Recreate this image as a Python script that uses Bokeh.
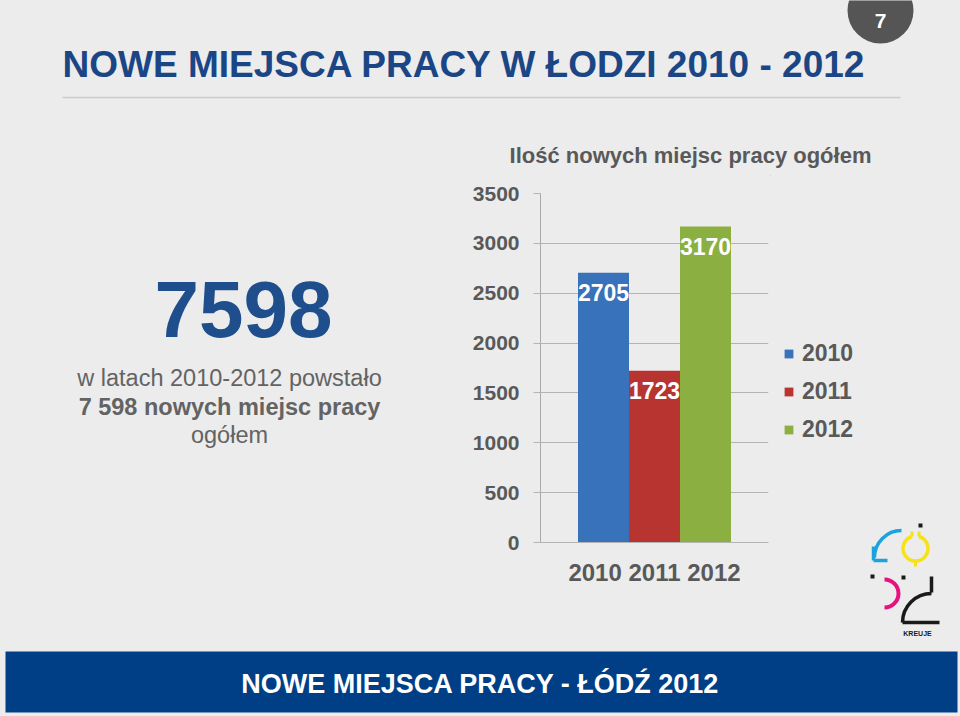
from bokeh.plotting import figure
from bokeh.layouts import column, row
from bokeh.models import ColumnDataSource, Range1d, FactorRange, FixedTicker, Legend, LegendItem
from bokeh.transform import dodge
from bokeh.core.properties import value
from bokeh.embed import file_html
from bokeh.resources import INLINE

# ---------------- data ----------------
years = ["2010", "2011", "2012"]
jobs = [2705, 1723, 3170]
bar_colors = ["#3772bb", "#b83431", "#8bb041"]
category = "2010 2011 2012"
y_ticks = [0, 500, 1000, 1500, 2000, 2500, 3000, 3500]
total_jobs = "7598"
slide_title = "NOWE MIEJSCA PRACY W ŁODZI 2010 - 2012"
chart_title = "Ilość nowych miejsc pracy ogółem"
footer_text = "NOWE MIEJSCA PRACY - ŁÓDŹ 2012"
page_number = "7"
summary_lines = ["w latach 2010-2012 powstało", "7 598 nowych miejsc pracy", "ogółem"]
summary_styles = ["normal", "bold", "normal"]
logo_text = "KREUJE"

BG = "#ececec"
NAVY = "#1b4686"
GRAY = "#595959"
SANS = value("Liberation Sans")


def blank(w, h, x0, x1, y0, y1):
    p = figure(width=w, height=h, x_range=Range1d(x0, x1), y_range=Range1d(y1, y0),
               min_border=0, toolbar_location=None, output_backend="svg",
               background_fill_color=BG, border_fill_color=BG, outline_line_color=None,
               x_axis_location=None, y_axis_location=None, frame_align=False)
    p.grid.visible = False
    return p


# ---------------- header ----------------
head = blank(960, 175, 0, 960, 0, 175)
head.circle(x=[880], y=[10], radius=33, fill_color="#555555", line_color=None)
head.text(x=[880], y=[20], text=[page_number], text_align="center", text_baseline="middle",
          text_font=SANS, text_font_style="bold", text_font_size="21px", text_color="white")
head.text(x=[62], y=[64], text=[slide_title], text_align="left", text_baseline="middle",
          text_font=SANS, text_font_style="bold", text_font_size="37px", text_color=NAVY)
head.segment(x0=[62], y0=[97], x1=[900], y1=[97], line_color="#cbcbcb", line_width=1.5)
head.text(x=[690], y=[155], text=[chart_title], text_align="center", text_baseline="middle",
          text_font=SANS, text_font_style="bold", text_font_size="22px", text_color=GRAY)

# ---------------- left text ----------------
left = blank(440, 475, 0, 440, 175, 650)
left.text(x=[243], y=[309], text=[total_jobs], text_align="center", text_baseline="middle",
          text_font=SANS, text_font_style="bold", text_font_size="80px", text_color="#1f4e8d")
for line, style, yy in zip(summary_lines, summary_styles, [377, 406, 434]):
    left.text(x=[229], y=[yy], text=[line], text_align="center", text_baseline="middle",
              text_font=SANS, text_font_style=style, text_font_size="23.5px", text_color="#636363")

# ---------------- chart ----------------
chart = figure(width=330, height=475, x_range=FactorRange(factors=[category]), y_range=Range1d(0, 3500),
               min_border_left=100, min_border_right=2, min_border_top=18, min_border_bottom=108,
               toolbar_location=None, output_backend="svg", frame_align=False,
               background_fill_color=BG, border_fill_color=BG, outline_line_color=None)
bar_w = 0.2237
for k, (yr, v, c) in enumerate(zip(years, jobs, bar_colors)):
    src = ColumnDataSource(dict(cat=[category], val=[v], lbl=[str(v)]))
    off = (k - 1) * bar_w
    chart.vbar(x=dodge("cat", off, range=chart.x_range), top="val", width=bar_w, source=src,
               fill_color=c, line_color=None)
    chart.text(x=dodge("cat", off, range=chart.x_range), y="val", text="lbl", source=src, y_offset=20,
               text_align="center", text_baseline="middle", text_font=SANS, text_font_style="bold",
               text_font_size="23px", text_color="white")

chart.yaxis.ticker = FixedTicker(ticks=y_ticks)
chart.yaxis.major_label_text_font = "Liberation Sans"
chart.yaxis.major_label_text_font_style = "bold"
chart.yaxis.major_label_text_font_size = "21px"
chart.yaxis.major_label_text_color = GRAY
chart.yaxis.axis_line_color = "#a9a9a9"
chart.yaxis.major_tick_line_color = "#b4b4b4"
chart.yaxis.major_tick_out = 7
chart.yaxis.major_tick_in = 0
chart.yaxis.minor_tick_line_color = None
chart.yaxis.major_label_standoff = 14
chart.xaxis.axis_line_color = "#b4b4b4"
chart.xaxis.major_tick_line_color = None
chart.xaxis.major_tick_out = 0
chart.xaxis.major_tick_in = 0
chart.xaxis.major_label_text_font = "Liberation Sans"
chart.xaxis.major_label_text_font_style = "bold"
chart.xaxis.major_label_text_font_size = "24px"
chart.xaxis.major_label_text_color = GRAY
chart.xaxis.major_label_standoff = 16
chart.ygrid.grid_line_color = "#b4b4b4"
chart.xgrid.grid_line_color = None

# ---------------- legend + logo ----------------
right = blank(190, 475, 770, 960, 175, 650)
items = []
for yr, c in zip(years, bar_colors):
    # swatch renderer placed outside the visible range; only its legend glyph is shown
    r = right.vbar(x=[0], top=[0], width=1, fill_color=c, line_color=None)
    items.append(LegendItem(label=yr, renderers=[r]))
legend = Legend(items=items, location=(13, 207), margin=0, padding=0, spacing=11,
                glyph_width=11, glyph_height=11, label_height=22, label_standoff=8,
                label_text_font="Liberation Sans", label_text_font_style="bold",
                label_text_font_size="23px", label_text_color=GRAY,
                background_fill_alpha=0, border_line_color=None)
right.add_layout(legend)

CY, YE, MA, BK = "#1ca3dd", "#f6e216", "#e5137f", "#1a1a1a"
right.segment(x0=[873, 873], y0=[546, 560], x1=[873, 887], y1=[560, 560], line_color=CY, line_width=3.5)
right.arc(x=[901], y=[557], radius=27, start_angle=1.5708, end_angle=3.1416, direction="anticlock",
          line_color=CY, line_width=3.5)
right.arc(x=[915], y=[548], radius=12.5, start_angle=1.85, end_angle=1.29, direction="anticlock",
          line_color=YE, line_width=3.5)
right.segment(x0=[911.5, 918.5, 915], y0=[536, 536, 560], x1=[911.5, 918.5, 915], y1=[531, 531, 566],
              line_color=YE, line_width=3)
right.arc(x=[884], y=[593], radius=14, start_angle=-1.5708, end_angle=1.5708, direction="anticlock",
          line_color=MA, line_width=4)
right.segment(x0=[931, 902], y0=[576, 622], x1=[931, 939], y1=[592, 622], line_color=BK, line_width=3.5)
right.arc(x=[931], y=[622], radius=29, start_angle=1.5708, end_angle=3.1416, direction="anticlock",
          line_color=BK, line_width=3.5)
right.rect(x=[872, 903, 920], y=[576, 577, 525], width=4, height=4, fill_color=BK, line_color=None)
right.text(x=[917], y=[633], text=[logo_text], text_align="center", text_baseline="middle",
           text_font=SANS, text_font_style="bold", text_font_size="7px", text_color=BK)

# ---------------- footer ----------------
foot = blank(960, 66, 0, 960, 650, 716)
foot.quad(left=[5], right=[957], top=[651], bottom=[712], fill_color="#003e86", line_color=None)
foot.text(x=[480], y=[683], text=[footer_text], text_align="center", text_baseline="middle",
          text_font=SANS, text_font_style="bold", text_font_size="27px", text_color="white")

layout = column(head, row(left, chart, right, spacing=0), foot, spacing=0)
page_style = "{% block postamble %}<style>html, body { background: #ececec; margin: 0; padding: 0; }</style>{% endblock %}"
open("out.html", "w").write(file_html(layout, INLINE, template=page_style))
